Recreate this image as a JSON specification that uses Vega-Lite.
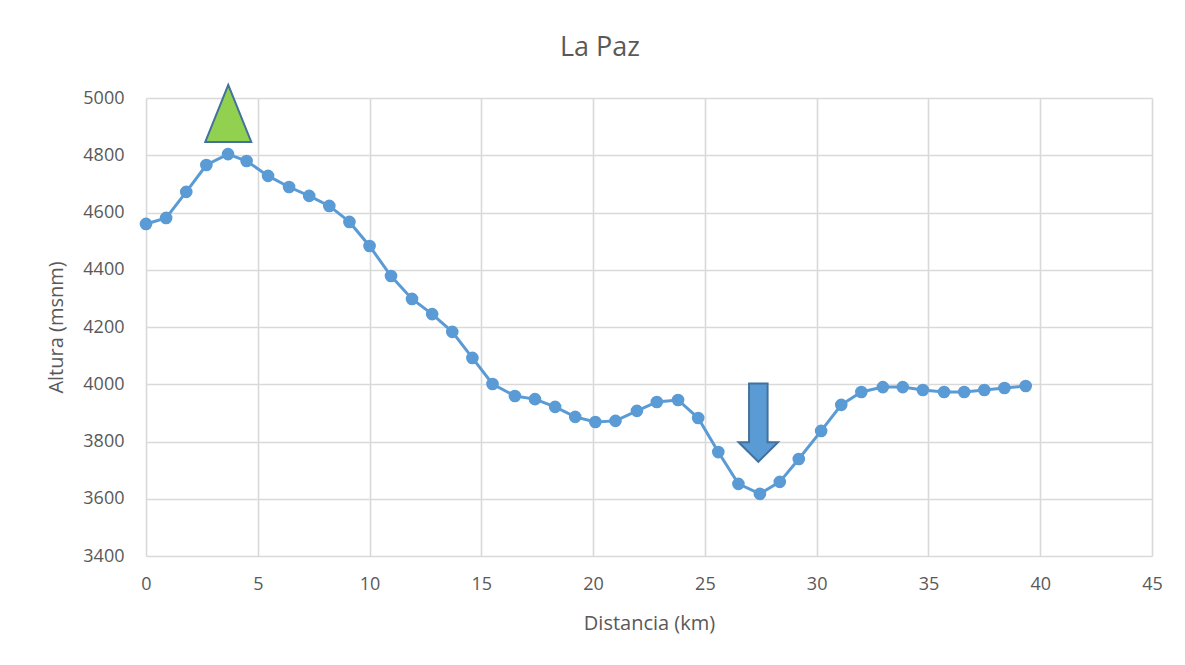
{
  "$schema": "https://vega.github.io/schema/vega-lite/v6.json",
  "autosize": {"type": "none"},
  "width": 1006,
  "height": 458,
  "padding": {"left": 146, "top": 98, "right": 33, "bottom": 109},
  "background": "white",
  "title": {
    "text": "La Paz",
    "fontSize": 27,
    "font": "Open Sans",
    "fontWeight": "normal",
    "color": "#595959",
    "anchor": "middle",
    "frame": "group",
    "dx": -49,
    "offset": 19
  },
  "config": {
    "view": {"stroke": null},
    "font": "Open Sans",
    "axis": {
      "gridColor": "#D9D9D9",
      "gridWidth": 1.6,
      "domain": false,
      "ticks": false,
      "labelFlush": false,
      "labelColor": "#595959",
      "titleColor": "#595959",
      "labelFontSize": 18,
      "titleFontSize": 20,
      "titleFontWeight": "normal",
      "labelFont": "Open Sans",
      "titleFont": "Open Sans"
    }
  },
  "datasets": {
    "perfil": [
      {"distancia": 0.0, "altura": 4560},
      {"distancia": 0.9, "altura": 4581},
      {"distancia": 1.8, "altura": 4672},
      {"distancia": 2.7, "altura": 4766},
      {"distancia": 3.67, "altura": 4804},
      {"distancia": 4.5, "altura": 4780},
      {"distancia": 5.46, "altura": 4728},
      {"distancia": 6.4, "altura": 4689},
      {"distancia": 7.3, "altura": 4658},
      {"distancia": 8.2, "altura": 4623},
      {"distancia": 9.1, "altura": 4567},
      {"distancia": 10.0, "altura": 4483},
      {"distancia": 10.96, "altura": 4378},
      {"distancia": 11.9, "altura": 4298},
      {"distancia": 12.8, "altura": 4245},
      {"distancia": 13.7, "altura": 4183},
      {"distancia": 14.6, "altura": 4092},
      {"distancia": 15.5, "altura": 4001},
      {"distancia": 16.5, "altura": 3959},
      {"distancia": 17.4, "altura": 3948},
      {"distancia": 18.3, "altura": 3921},
      {"distancia": 19.2, "altura": 3886},
      {"distancia": 20.1, "altura": 3868},
      {"distancia": 21.0, "altura": 3872},
      {"distancia": 21.96, "altura": 3907},
      {"distancia": 22.85, "altura": 3938},
      {"distancia": 23.8, "altura": 3945},
      {"distancia": 24.7, "altura": 3882},
      {"distancia": 25.6, "altura": 3763},
      {"distancia": 26.5, "altura": 3652},
      {"distancia": 27.46, "altura": 3617},
      {"distancia": 28.35, "altura": 3659},
      {"distancia": 29.2, "altura": 3739},
      {"distancia": 30.2, "altura": 3837},
      {"distancia": 31.1, "altura": 3928},
      {"distancia": 32.0, "altura": 3973},
      {"distancia": 32.96, "altura": 3990},
      {"distancia": 33.85, "altura": 3990},
      {"distancia": 34.75, "altura": 3980},
      {"distancia": 35.7, "altura": 3973},
      {"distancia": 36.6, "altura": 3973},
      {"distancia": 37.5, "altura": 3980},
      {"distancia": 38.4, "altura": 3987},
      {"distancia": 39.35, "altura": 3994}
    ],
    "marcas": [
      {"distancia": 3.68, "altura": 4946, "tipo": "cumbre"},
      {"distancia": 27.39, "altura": 3866, "tipo": "minimo"}
    ]
  },
  "layer": [
    {
      "data": {"name": "perfil"},
      "mark": {"type": "line", "color": "#5B9BD5", "strokeWidth": 3},
      "encoding": {
        "x": {
          "field": "distancia",
          "type": "quantitative",
          "title": "Distancia (km)",
          "scale": {"domain": [0, 45], "nice": false},
          "axis": {"values": [0, 5, 10, 15, 20, 25, 30, 35, 40, 45], "format": "d", "labelPadding": 19, "titlePadding": 20}
        },
        "y": {
          "field": "altura",
          "type": "quantitative",
          "title": "Altura (msnm)",
          "scale": {"domain": [3400, 5000], "nice": false, "zero": false},
          "axis": {"values": [3400, 3600, 3800, 4000, 4200, 4400, 4600, 4800, 5000], "format": "d", "labelPadding": 22, "titlePadding": 16}
        }
      }
    },
    {
      "data": {"name": "perfil"},
      "mark": {"type": "point", "filled": true, "shape": "circle", "size": 160, "color": "#5B9BD5", "opacity": 1},
      "encoding": {
        "x": {"field": "distancia", "type": "quantitative"},
        "y": {"field": "altura", "type": "quantitative"}
      }
    },
    {
      "data": {"name": "marcas"},
      "transform": [{"filter": "datum.tipo === 'cumbre'"}],
      "mark": {
        "type": "point",
        "filled": true,
        "shape": "M0,-1.24L-1,1.24L1,1.24Z",
        "size": 2116,
        "fill": "#92D050",
        "stroke": "#41719C",
        "strokeWidth": 2,
        "opacity": 1
      },
      "encoding": {
        "x": {"field": "distancia", "type": "quantitative"},
        "y": {"field": "altura", "type": "quantitative"}
      }
    },
    {
      "data": {"name": "marcas"},
      "transform": [{"filter": "datum.tipo === 'minimo'"}],
      "mark": {
        "type": "point",
        "filled": true,
        "shape": "M-0.47,-1.99L0.47,-1.99L0.47,1L1,1L0,1.99L-1,1L-0.47,1Z",
        "size": 1552,
        "fill": "#5B9BD5",
        "stroke": "#41719C",
        "strokeWidth": 2,
        "opacity": 1
      },
      "encoding": {
        "x": {"field": "distancia", "type": "quantitative"},
        "y": {"field": "altura", "type": "quantitative"}
      }
    }
  ]
}
